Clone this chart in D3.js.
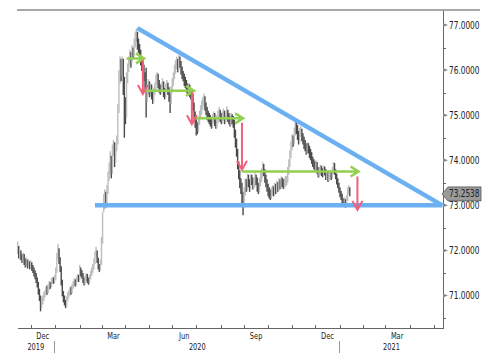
<!DOCTYPE html>
<html>
<head>
<meta charset="utf-8">
<title>USD/INR</title>
<script src="https://cdn.jsdelivr.net/npm/d3@7"></script>
<style>
  body{margin:0;background:#fff;}
  .lbl{font-family:"Liberation Sans Narrow","DejaVu Sans Condensed","Arial Narrow",sans-serif;font-size:10px;fill:#222;}
  .xl{font-size:9px;}
  .axis path,.axis line{fill:none;stroke:#666;shape-rendering:crispEdges;}
  .axis text{font-family:"Liberation Sans Narrow","DejaVu Sans Condensed","Arial Narrow",sans-serif;font-size:10px;fill:#222;}
</style>
</head>
<body>
<script>
// calendar of the time axis (trading days only) and first data day
var axisStart = "2019-11-13", axisEnd = "2021-05-13", dataStart = "2019-11-14";

// daily closes, Nov 14 2019 .. Jan 14 2021
var close = [72.05,71.90,
 71.95,71.85,71.80,71.88,71.75, 71.70,71.78,71.68,71.72,71.65,
 71.70,71.62,71.58,71.50,71.45, 71.35,71.25,71.10,70.95,70.80,
 70.85,70.92,71.00,71.05,71.12, 71.10,71.18,71.25,71.22,71.30,
 71.35,71.32,71.40,71.55,71.85, 72.00,71.80,71.60,71.30,71.05,
 70.95,70.85,70.80,70.92,71.00, 71.05,71.12,71.10,71.20,71.25,
 71.30,71.28,71.35,71.40,71.38, 71.55,71.50,71.45,71.35,71.30,
 71.38,71.42,71.35,71.30,71.40, 71.48,71.55,71.62,71.75,71.90,
 71.95,71.80,71.65,71.60,71.72, 72.20,72.70,73.00,73.15,73.05,
 73.30,73.60,73.80,74.00,73.75, 74.20,74.30,74.00,74.25,74.40,
 75.10,75.80,76.10,75.90,76.20, 75.60,75.20,75.00,75.80,76.05,
 76.15,76.30,76.20,76.40,76.35, 76.55,76.70,76.80,76.60,76.50,
 76.35,76.20,76.10,76.05,75.85, 75.70,75.40,75.55,75.65,75.50,
 75.60,75.45,75.35,75.50,75.60, 75.75,75.85,75.70,75.60,75.55,
 75.60,75.70,75.50,75.45,75.60, 75.65,75.55,75.40,75.30,75.55,
 75.70,75.85,76.00,76.10,76.20, 76.05,76.25,76.15,76.00,75.90,
 75.85,75.75,75.70,75.60,75.55, 75.60,75.50,75.45,75.40,75.20,
 75.00,74.85,74.75,74.70,74.85, 75.00,75.10,75.20,75.30,75.35,
 75.20,75.10,75.00,74.95,74.90, 74.85,74.80,74.90,74.95,74.85,
 74.80,74.90,74.95,75.05,74.95, 74.90,74.95,75.00,74.90,74.95,
 75.05,74.95,74.90,74.85,74.95, 74.90,74.85,74.60,74.40,74.20,
 73.90,73.70,73.50,73.40,73.20, 73.05,73.30,73.50,73.40,73.60,
 73.50,73.40,73.60,73.55,73.45, 73.50,73.60,73.55,73.40,73.35,
 73.50,73.60,73.70,73.85,73.75, 73.60,73.50,73.40,73.30,73.25,
 73.20,73.30,73.35,73.30,73.40, 73.35,73.45,73.40,73.50,73.45,
 73.55,73.50,73.45,73.50,73.55, 73.55,73.75,73.90,74.10,74.30,
 74.45,74.40,74.60,74.75,74.70, 74.55,74.45,74.60,74.65,74.50,
 74.45,74.35,74.30,74.20,74.30, 74.25,74.15,74.10,74.00,73.95,
 73.90,73.85,73.90,73.80,73.70, 73.75,73.80,73.75,73.70,73.80,
 73.75,73.65,73.70,73.60,73.65, 73.70,73.65,73.75,73.90,73.75,
 73.65,73.55,73.45,73.35,73.25, 73.20,73.10,73.05,73.10,73.00,
 73.15,73.30,73.35,73.2538];

var high = [72.20,72.10,
 72.02,72.00,71.92,71.95,71.92, 71.82,71.85,71.80,71.80,71.76,
 71.78,71.74,71.68,71.62,71.56, 71.50,71.40,71.30,71.15,71.00,
 70.95,71.00,71.08,71.12,71.20, 71.22,71.25,71.32,71.30,71.38,
 71.42,71.40,71.46,71.62,71.95, 72.15,72.05,71.85,71.65,71.35,
 71.10,71.00,70.90,70.98,71.08, 71.12,71.18,71.20,71.26,71.32,
 71.38,71.36,71.42,71.48,71.46, 71.68,71.62,71.56,71.50,71.40,
 71.45,71.50,71.48,71.40,71.46, 71.55,71.62,71.70,71.82,71.98,
 72.08,72.00,71.84,71.70,71.80, 72.30,72.85,73.25,73.35,73.30,
 73.45,73.75,73.95,74.20,74.10, 74.35,74.45,74.40,74.38,74.55,
 75.25,76.00,76.30,76.25,76.30, 76.25,75.85,75.40,75.95,76.15,
 76.30,76.45,76.40,76.55,76.50, 76.70,76.85,76.92,76.85,76.70,
 76.58,76.45,76.30,76.22,76.12, 75.95,76.05,75.68,75.80,75.75,
 75.72,75.68,75.55,75.62,75.72, 75.90,75.95,75.92,75.78,75.68,
 75.72,75.82,75.75,75.60,75.70, 75.78,75.72,75.62,75.50,75.65,
 75.82,75.95,76.12,76.22,76.30, 76.25,76.33,76.30,76.20,76.08,
 75.98,75.92,75.85,75.78,75.70, 75.72,75.68,75.60,75.55,75.48,
 75.28,75.08,74.96,74.85,74.95, 75.10,75.22,75.32,75.40,75.48,
 75.42,75.28,75.18,75.10,75.05, 75.00,74.95,75.02,75.08,75.05,
 74.95,75.00,75.10,75.18,75.12, 75.05,75.08,75.15,75.10,75.05,
 75.20,75.12,75.05,74.98,75.05, 75.02,74.98,74.90,74.68,74.48,
 74.25,73.98,73.78,73.60,73.50, 73.30,73.40,73.60,73.58,73.70,
 73.68,73.58,73.70,73.68,73.62, 73.60,73.72,73.68,73.62,73.50,
 73.60,73.72,73.82,73.96,73.92, 73.80,73.68,73.58,73.48,73.40,
 73.35,73.40,73.45,73.42,73.50, 73.48,73.55,73.52,73.60,73.58,
 73.64,73.62,73.58,73.60,73.65, 73.66,73.85,74.02,74.22,74.42,
 74.58,74.55,74.72,74.87,74.85, 74.78,74.65,74.72,74.75,74.70,
 74.60,74.52,74.45,74.38,74.40, 74.38,74.32,74.25,74.18,74.08,
 74.02,73.98,74.00,73.96,73.85, 73.85,73.90,73.88,73.82,73.88,
 73.86,73.80,73.78,73.75,73.72, 73.78,73.76,73.85,73.96,73.94,
 73.80,73.70,73.60,73.50,73.40, 73.32,73.26,73.16,73.18,73.14,
 73.22,73.40,73.45,73.40];

var low = [71.92,71.82,
 71.80,71.78,71.72,71.74,71.68, 71.62,71.65,71.60,71.62,71.58,
 71.60,71.55,71.50,71.42,71.36, 71.28,71.18,71.02,70.88,70.65,
 70.72,70.80,70.88,70.95,71.00, 71.02,71.05,71.12,71.15,71.18,
 71.25,71.26,71.28,71.35,71.50, 71.80,71.70,71.52,71.22,70.98,
 70.85,70.78,70.72,70.75,70.88, 70.95,71.00,71.02,71.05,71.15,
 71.20,71.20,71.22,71.30,71.30, 71.34,71.42,71.38,71.28,71.22,
 71.25,71.32,71.28,71.24,71.26, 71.36,71.44,71.50,71.58,71.70,
 71.85,71.72,71.58,71.52,71.55, 71.68,72.15,72.85,72.92,72.95,
 73.00,73.25,73.55,73.70,73.60, 73.70,74.10,73.85,73.95,74.20,
 74.35,75.05,75.70,75.75,75.85, 75.45,74.50,74.80,74.95,75.70,
 75.95,76.10,76.05,76.15,76.25, 76.30,76.50,76.62,76.45,76.38,
 76.25,76.10,75.98,75.92,75.75, 75.58,74.95,75.30,75.45,75.40,
 75.42,75.35,75.25,75.30,75.45, 75.55,75.68,75.60,75.50,75.45,
 75.48,75.52,75.40,75.35,75.40, 75.52,75.45,75.30,75.05,75.25,
 75.50,75.65,75.80,75.92,76.02, 75.95,76.00,76.05,75.90,75.80,
 75.75,75.65,75.60,75.50,75.45, 75.48,75.40,75.35,75.30,75.10,
 74.90,74.72,74.55,74.58,74.62, 74.78,74.92,75.02,75.12,75.20,
 75.10,75.00,74.90,74.85,74.80, 74.75,74.70,74.72,74.82,74.76,
 74.70,74.72,74.82,74.88,74.85, 74.80,74.82,74.88,74.80,74.82,
 74.88,74.85,74.80,74.75,74.78, 74.80,74.72,74.50,74.28,74.08,
 73.80,73.58,73.38,73.25,73.05, 72.78,72.95,73.22,73.30,73.32,
 73.40,73.30,73.35,73.45,73.35, 73.38,73.42,73.45,73.30,73.25,
 73.28,73.42,73.52,73.62,73.65, 73.50,73.40,73.30,73.20,73.15,
 73.12,73.14,73.22,73.20,73.22, 73.25,73.28,73.30,73.32,73.36,
 73.38,73.40,73.36,73.38,73.42, 73.44,73.50,73.68,73.85,74.05,
 74.22,74.30,74.35,74.55,74.58, 74.45,74.35,74.40,74.52,74.42,
 74.35,74.25,74.20,74.12,74.14, 74.15,74.05,74.00,73.92,73.85,
 73.80,73.75,73.78,73.70,73.62, 73.62,73.68,73.65,73.62,73.64,
 73.66,73.56,73.58,73.52,73.54, 73.58,73.56,73.60,73.70,73.68,
 73.58,73.46,73.38,73.28,73.18, 73.12,73.02,72.98,73.00,72.95,
 72.98,73.10,73.25,73.20];

var yTicks = [71, 72, 73, 74, 75, 76, 77];
var yMinor = [70.5, 71.5, 72.5, 73.5, 74.5, 75.5, 76.5];
var monthLabels = ["Dec", "Mar", "Jun", "Sep"];
var lastPrice = 73.2538;

// drawn annotations
var resistance = [["2020-04-16", 76.93], ["2021-05-13", 73.0]];
var support = [["2020-02-21", 73.0], ["2021-05-13", 73.0]];
var greenArrows = [["2020-04-02", "2020-04-24", 76.26],
                   ["2020-04-24", "2020-06-29", 75.54],
                   ["2020-06-29", "2020-08-31", 74.93],
                   ["2020-08-28", "2021-01-26", 73.75]];
var redArrows = [["2020-04-23", 76.22, 75.47],
                 ["2020-06-25", 75.52, 74.80],
                 ["2020-08-28", 74.83, 73.79],
                 ["2021-01-25", 73.64, 72.90]];

var width = 490, height = 353;
var mLeft = 17, mRight = 443, mTop = 10, mBottom = 328;

var svg = d3.select("body").append("svg")
    .attr("width", width).attr("height", height);

var parse = d3.timeParse("%Y-%m-%d"), key = d3.timeFormat("%Y-%m-%d");
var days = d3.timeDays(parse(axisStart), d3.timeDay.offset(parse(axisEnd), 1))
    .filter(function(d){ var w = d.getDay(); return w > 0 && w < 6; });
var pos = {};
days.forEach(function(d, i){ pos[key(d)] = i; });
var d0 = pos[dataStart];

var x = d3.scaleLinear().domain([0.4, days.length - 0.4]).range([mLeft, mRight]);
var y = d3.scaleLinear().domain([70.28, 77.333]).range([mBottom, mTop]);
function xd(s){ return x(pos[s]); }

// top border
svg.append("line").attr("x1", mLeft).attr("x2", 480).attr("y1", mTop).attr("y2", mTop)
   .attr("stroke", "#a8a8a8").attr("stroke-width", 2);

// candles
svg.append("g").selectAll("line").data(close).join("line")
   .attr("x1", function(d, i){ return x(d0 + i); })
   .attr("x2", function(d, i){ return x(d0 + i); })
   .attr("y1", function(d, i){ return y(high[i]); })
   .attr("y2", function(d, i){ return y(low[i]); })
   .attr("stroke", function(d, i){ return (i > 0 && d < close[i - 1]) ? "#4a4a4a" : "#bdbdbd"; })
   .attr("stroke-width", 1.4);

// month ticks
var months = d3.timeMonths(parse(axisStart), d3.timeDay.offset(parse(axisEnd), 1));
var monthIdx = months.map(function(m){
  return d3.bisector(function(d){ return d; }).left(days, m);
});
var xAxis = d3.axisBottom(x).tickValues(monthIdx).tickFormat("").tickSizeInner(-3).tickSizeOuter(0);
svg.append("g").attr("class", "axis").attr("transform", "translate(0," + mBottom + ")").call(xAxis);

var fmtMonth = d3.timeFormat("%b");
months.forEach(function(m, i){
  var name = fmtMonth(m);
  if (monthLabels.indexOf(name) < 0 || i + 1 >= months.length) return;
  var cx = (x(monthIdx[i]) + x(monthIdx[i + 1])) / 2;
  svg.append("text").attr("class", "lbl xl").attr("x", cx).attr("y", 339)
     .attr("text-anchor", "middle").text(name);
});

// years
var yearBreaks = [mLeft];
months.forEach(function(m, i){ if (m.getMonth() === 0) yearBreaks.push(x(monthIdx[i])); });
yearBreaks.push(mRight);
var firstYear = parse(axisStart).getFullYear();
for (var k = 0; k < yearBreaks.length - 1; k++) {
  svg.append("text").attr("class", "lbl xl").attr("x", (yearBreaks[k] + yearBreaks[k + 1]) / 2)
     .attr("y", 350).attr("text-anchor", "middle").text(firstYear + k);
  if (k > 0) svg.append("line").attr("x1", yearBreaks[k]).attr("x2", yearBreaks[k])
     .attr("y1", 341).attr("y2", 353).attr("stroke", "#999").attr("shape-rendering", "crispEdges");
}

// right axis
var yAxis = d3.axisRight(y).tickValues(yTicks).tickFormat(d3.format(".4f"))
    .tickSize(0).tickPadding(6).tickSizeOuter(0);
svg.append("g").attr("class", "axis").attr("transform", "translate(" + mRight + ",0)").call(yAxis);
svg.append("g").attr("class", "axis").attr("transform", "translate(" + mRight + ",0)")
   .call(d3.axisRight(y).tickValues(yMinor).tickFormat("").tickSize(3).tickSizeOuter(0))
   .select(".domain").remove();
svg.append("g").selectAll("path").data(yTicks).join("path")
   .attr("d", function(d){ var v = y(d); return "M" + mRight + "," + (v - 2) + "L" + (mRight + 5) + "," + v + "L" + mRight + "," + (v + 2) + "Z"; })
   .attr("fill", "#888");

// trend lines
var blue = "#6ab0f2";
[resistance, support].forEach(function(l){
  svg.append("line")
     .attr("x1", xd(l[0][0])).attr("y1", y(l[0][1]))
     .attr("x2", xd(l[1][0])).attr("y2", y(l[1][1]))
     .attr("stroke", blue).attr("stroke-width", 4.5);
});

// arrows
var green = "#92d050", red = "#f2607c";
greenArrows.forEach(function(a){
  var x1 = xd(a[0]), x2 = xd(a[1]), v = y(a[2]);
  svg.append("path").attr("d", "M" + x1 + "," + v + "L" + x2 + "," + v +
      "M" + (x2 - 8) + "," + (v - 5) + "L" + x2 + "," + v + "L" + (x2 - 8) + "," + (v + 5))
     .attr("fill", "none").attr("stroke", green).attr("stroke-width", 2.5);
});
redArrows.forEach(function(a){
  var xx = xd(a[0]), v1 = y(a[1]), v2 = y(a[2]);
  svg.append("path").attr("d", "M" + xx + "," + v1 + "L" + xx + "," + v2 +
      "M" + (xx - 5) + "," + (v2 - 9) + "L" + xx + "," + v2 + "L" + (xx + 5) + "," + (v2 - 9))
     .attr("fill", "none").attr("stroke", red).attr("stroke-width", 2);
});

// last price tag
var ty = y(lastPrice);
svg.append("path")
   .attr("d", "M" + (mRight - 1) + "," + ty + "L" + (mRight + 5) + "," + (ty - 7) + "L481," + (ty - 7) +
        "L481," + (ty + 7) + "L" + (mRight + 5) + "," + (ty + 7) + "Z")
   .attr("fill", "#9a9a9a").attr("stroke", "#555").attr("stroke-width", 0.8);
svg.append("text").attr("class", "lbl").attr("x", mRight + 6).attr("y", ty + 3.5)
   .text(d3.format(".4f")(lastPrice));

// narrow look for all labels
svg.selectAll("text").each(function(){
  var w = this.getComputedTextLength();
  if (w > 0) d3.select(this).attr("textLength", w * 0.82).attr("lengthAdjust", "spacingAndGlyphs");
});
</script>
</body>
</html>
